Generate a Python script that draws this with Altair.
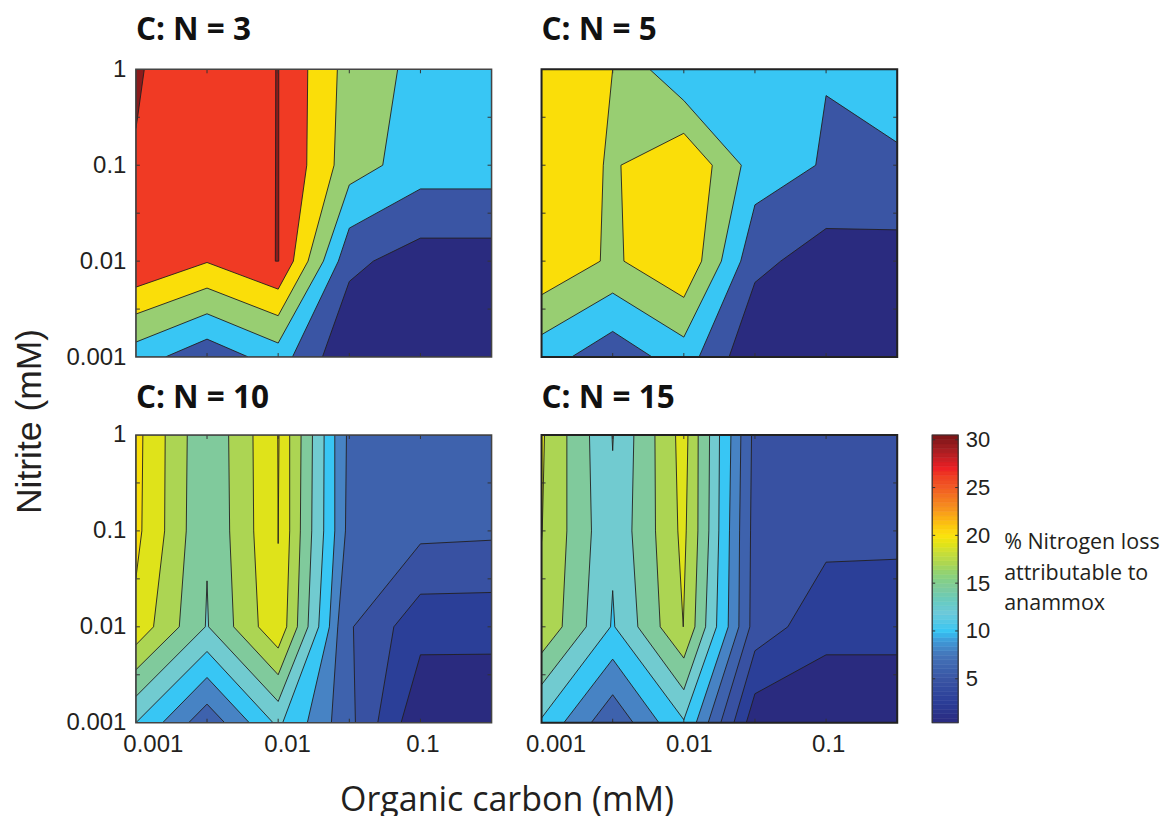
import altair as alt

# Contour regions, in log10(mM): (level, [(log10 carbon, log10 nitrite), ...])
# Each region covers everything at or above its level; higher levels are painted later.
FULL = [(-3, -3), (-0.5, -3), (-0.5, 0), (-3, 0)]

COLORS_A = ["#2a2b7f", "#3a55a4", "#38c6f4", "#98ce72", "#fade09", "#f03a24", "#8c1b1b"]
COLORS_B = ["#2a2b7f", "#2b3f98", "#3851a2", "#3e62ad", "#4783c4", "#38c6f4",
            "#71cbd0", "#80ca9c", "#acd553", "#dfe31a", "#fade09"]

PANEL_3 = [
    (0, FULL),
    (1, [(-1.689, -3), (-1.5, -2.212), (-1.331, -2), (-1, -1.76), (-0.5, -1.76), (-0.5, 0), (-3, 0), (-3, -3)]),
    (2, [(-1.9, -3), (-1.577, -2), (-1.5, -1.656), (-1, -1.247), (-0.5, -1.247), (-0.5, 0), (-3, 0), (-3, -3),
         (-2.794, -3), (-2.5, -2.813), (-2.209, -3)]),
    (3, [(-3, -2.844), (-2.5, -2.549), (-2, -2.854), (-1.682, -2), (-1.5, -1.205), (-1.265, -1), (-1.16, 0), (-3, 0)]),
    (4, [(-3, -2.552), (-2.5, -2.281), (-2, -2.569), (-1.79, -2), (-1.607, -1), (-1.584, 0), (-3, 0)]),
    (5, [(-3, -2.271), (-2.5, -2.014), (-2, -2.292), (-1.893, -2), (-1.799, -1), (-1.792, 0), (-3, 0)]),
    (6, [(-3, -0.615), (-2.988, -0.5), (-2.941, 0), (-3, 0)]),
    (6, [(-2.017, 0), (-2.02, -2), (-1.996, -2), (-1.996, 0)]),
]

PANEL_5 = [
    (0, FULL),
    (1, [(-1.682, -3), (-1.5, -2.222), (-1.319, -2), (-1, -1.66), (-0.5, -1.674), (-0.5, 0), (-3, 0), (-3, -3)]),
    (2, [(-1.893, -3), (-1.6, -2), (-1.5, -1.413), (-1.073, -1), (-1, -0.274), (-0.5, -0.764), (-0.5, 0), (-3, 0),
         (-3, -3), (-2.789, -3), (-2.5, -2.733), (-2.222, -3)]),
    (3, [(-3, -2.767), (-2.5, -2.333), (-2, -2.792), (-1.736, -2), (-1.596, -1), (-2, -0.326), (-2.24, 0), (-3, 0)]),
    (4, [(-3, -2.351), (-2.587, -2), (-2.566, -1), (-2.5, 0), (-3, 0)]),
    (4, [(-2.442, -1), (-2, -0.667), (-1.8, -1), (-1.875, -2), (-2, -2.378), (-2.421, -2)]),
]

PANEL_10 = [
    (0, FULL),
    (1, [(-1.136, -3), (-1, -2.292), (-0.5, -2.285), (-0.5, 0), (-3, 0), (-3, -3)]),
    (2, [(-1.3, -3), (-1.187, -2), (-1, -1.66), (-0.5, -1.642), (-0.5, 0), (-3, 0), (-3, -3)]),
    (3, [(-1.457, -3), (-1.471, -2), (-1, -1.135), (-0.5, -1.097), (-0.5, 0), (-3, 0), (-3, -3)]),
    (4, [(-3, -3), (-2.629, -3), (-2.5, -2.806), (-2.376, -3), (-1.626, -3), (-1.581, -2), (-1.527, -1), (-1.52, 0), (-3, 0)]),
    (5, [(-3, -3), (-2.812, -3), (-2.5, -2.528), (-2.203, -3), (-1.795, -3), (-1.64, -2), (-1.602, -1), (-1.602, 0), (-3, 0)]),
    (6, [(-3, -3), (-2.5, -2.257), (-2.036, -3), (-1.968, -3), (-1.715, -2), (-1.68, -1), (-1.677, 0), (-3, 0)]),
    (7, [(-3, -2.726), (-2.512, -2), (-2.5, -1.521), (-2.489, -2), (-2, -2.778), (-1.79, -2), (-1.764, -1), (-1.759, 0), (-3, 0)]),
    (8, [(-3, -2.448), (-2.695, -2), (-2.646, -1), (-2.639, 0), (-3, 0)]),
    (8, [(-2.348, 0), (-2.341, -1), (-2.313, -2), (-2, -2.5), (-1.865, -2), (-1.844, -1), (-1.839, 0)]),
    (9, [(-3, -2.188), (-2.876, -2), (-2.798, -1), (-2.794, 0), (-3, 0)]),
    (9, [(-2.177, 0), (-2.172, -1), (-2.139, -2), (-2, -2.222), (-1.94, -2), (-1.919, -1), (-1.919, 0)]),
    (10, [(-3, -1.493), (-2.958, -1), (-2.951, 0), (-3, 0)]),
    (10, [(-2.003, 0), (-2.0, -1.132), (-1.994, 0)]),
]

PANEL_15 = [
    (0, FULL),
    (1, [(-1.561, -3), (-1.5, -2.698), (-1, -2.292), (-0.5, -2.292), (-0.5, 0), (-3, 0), (-3, -3)]),
    (2, [(-1.648, -3), (-1.5, -2.25), (-1.269, -2), (-1, -1.326), (-0.5, -1.295), (-0.5, 0), (-3, 0), (-3, -3)]),
    (3, [(-1.74, -3), (-1.536, -2), (-1.531, -1), (-1.524, 0), (-3, 0), (-3, -3)]),
    (4, [(-3, -3), (-2.651, -3), (-2.5, -2.708), (-2.356, -3), (-1.829, -3), (-1.613, -2), (-1.608, -1), (-1.599, 0), (-3, 0)]),
    (5, [(-3, -3), (-2.843, -3), (-2.5, -2.337), (-2.175, -3), (-1.913, -3), (-1.688, -2), (-1.679, -1), (-1.669, 0), (-3, 0)]),
    (6, [(-3, -2.951), (-2.515, -2), (-2.5, -1.622), (-2.485, -2), (-2, -2.969), (-1.77, -2), (-1.754, -1), (-1.749, 0), (-3, 0)]),
    (7, [(-2.505, 0), (-2.5, -0.163), (-2.495, 0)]),
    (7, [(-3, -2.604), (-2.686, -2), (-2.649, -1), (-2.663, 0), (-3, 0)]),
    (7, [(-2.351, 0), (-2.365, -1), (-2.323, -2), (-2, -2.656), (-1.847, -2), (-1.824, -1), (-1.819, 0)]),
    (8, [(-3, -2.274), (-2.855, -2), (-2.822, -1), (-2.822, 0), (-3, 0)]),
    (8, [(-2.203, 0), (-2.199, -1), (-2.166, -2), (-2, -2.326), (-1.922, -2), (-1.901, -1), (-1.899, 0)]),
    (9, [(-3, -1.111), (-2.995, -1), (-2.979, 0), (-3, 0)]),
    (9, [(-2.058, 0), (-2.042, -1), (-2.004, -2), (-1.983, -1), (-1.971, 0)]),
]

X_TICKS = [-2.5, -2, -1.5, -1]
Y_TICKS = [-2.5, -2, -1.5, -1, -0.5]
# The printed x labels sit a little to the right of their ticks in the figure.
X_LABEL_POS_LEFT = [-2.881, -1.937, -0.986]
X_LABEL_POS_RIGHT = [-2.902, -1.965, -0.986]
Y_LABELS = [-3, -2, -1, 0]

BAR_VALUES = [0.4, 2.5, 5, 7.5, 9, 10, 12, 14.5, 17, 19, 20, 21, 23, 25, 27, 29, 30.5]
BAR_COLORS = ["#2a2a7f", "#2b3d97", "#3a55a4", "#4575b9", "#3f9bd8", "#38c6f4", "#6ec9d8", "#7fca9c",
              "#acd553", "#dfe31a", "#fbe30d", "#fbc712", "#f58d20", "#f15a24", "#ed2024", "#a41e22", "#7a1416"]
BAR_EDGES = [0.4 + i * 30.1 / 64 for i in range(65)]
BAR_TICKS = [5, 10, 15, 20, 25, 30]

W, H, CB_W = 356, 288, 26
NUM_FONT = "Liberation Sans"
TXT_FONT = "Open Sans"
INK = "#231f20"
X_EXPR = "datum.value < -2.5 ? '0.001' : datum.value < -1.5 ? '0.01' : '0.1'"
Y_EXPR = "datum.value == 0 ? '1' : format(pow(10, datum.value), '.' + (-datum.value) + 'f')"
XS = alt.Scale(domain=[-3, -0.5], nice=False, zero=False)
YS = alt.Scale(domain=[-3, 0], nice=False, zero=False)


def panel(regions, colors, title, title_y, x_labels, y_labels, x_title, y_title, frame, frame_w):
    rows = []
    for k, (level, pts) in enumerate(regions):
        for j, (x, y) in enumerate(pts):
            rows.append({"poly": k, "i": j, "x": x, "y": y, "color": colors[level]})
    x_axis = None
    if x_labels:
        x_axis = alt.Axis(values=x_labels, labelExpr=X_EXPR, domain=False, ticks=False, grid=False,
                          labelFont=NUM_FONT, labelFontSize=24, labelColor=INK, labelPadding=10,
                          labelFlush=False, labelOverlap=False,
                          title=x_title, titleX=371, titleY=78, titleFont=TXT_FONT, titleFontSize=34,
                          titleFontWeight="normal", titleColor=INK, titleAlign="center", titleBaseline="middle")
    y_axis = None
    if y_labels:
        y_axis = alt.Axis(values=y_labels, labelExpr=Y_EXPR, domain=False, ticks=False, grid=False,
                          labelFont=NUM_FONT, labelFontSize=24, labelColor=INK, labelPadding=10,
                          labelFlush=False, labelOverlap=False,
                          title=y_title, titleX=-106, titleY=352, titleAngle=270, titleFont=NUM_FONT, titleFontSize=35.5,
                          titleFontWeight="normal", titleColor=INK, titleAlign="center", titleBaseline="middle")
    base = alt.Chart(alt.Data(values=rows)).mark_line(
        interpolate="linear-closed", stroke=INK, strokeWidth=0.9, clip=True
    ).encode(
        x=alt.X("x:Q", scale=XS, axis=x_axis),
        y=alt.Y("y:Q", scale=YS, axis=y_axis),
        order="i:Q",
        detail="poly:N",
        fill=alt.Fill("color:N", scale=None),
    )
    xd = alt.Data(values=[{"v": v} for v in X_TICKS])
    yd = alt.Data(values=[{"v": v} for v in Y_TICKS])
    tick = dict(color="#333333", strokeWidth=1)
    ticks = [
        alt.Chart(xd).mark_rule(**tick).encode(x=alt.X("v:Q", scale=XS, axis=x_axis), y=alt.value(0), y2=alt.value(4)),
        alt.Chart(xd).mark_rule(**tick).encode(x=alt.X("v:Q", scale=XS, axis=x_axis), y=alt.value(H - 4), y2=alt.value(H)),
        alt.Chart(yd).mark_rule(**tick).encode(y=alt.Y("v:Q", scale=YS, axis=y_axis), x=alt.value(0), x2=alt.value(4)),
        alt.Chart(yd).mark_rule(**tick).encode(y=alt.Y("v:Q", scale=YS, axis=y_axis), x=alt.value(W - 4), x2=alt.value(W)),
    ]
    box = alt.Chart(alt.Data(values=[{"a": 0}])).mark_rect(
        fillOpacity=0, stroke=frame, strokeWidth=frame_w
    ).encode(x=alt.value(0), x2=alt.value(W), y=alt.value(0), y2=alt.value(H))
    head = alt.Chart(alt.Data(values=[{"t": title}])).mark_text(
        font=TXT_FONT, fontSize=31.5, fontWeight="bold", color="#111111", align="left", baseline="alphabetic"
    ).encode(text="t:N", x=alt.value(0), y=alt.value(title_y))
    return alt.layer(base, *ticks, box, head).properties(width=W, height=H)


def label(text, x, y, size):
    return alt.Chart(alt.Data(values=[{"t": text}])).mark_text(
        font=TXT_FONT, fontSize=size, color=INK, align="left", baseline="middle"
    ).encode(text="t:N", x=alt.value(x), y=alt.value(y))


p1 = panel(PANEL_3, COLORS_A, "C: N = 3", -29, None, Y_LABELS, None, "Nitrite (mM)", "#444444", 1.5)
p2 = panel(PANEL_5, COLORS_A, "C: N = 5", -29, None, None, None, None, "#222222", 2)
p3 = panel(PANEL_10, COLORS_B, "C: N = 10", -27, X_LABEL_POS_LEFT, Y_LABELS, "Organic carbon (mM)", None, "#444444", 1.5)
p4 = panel(PANEL_15, COLORS_B, "C: N = 15", -27, X_LABEL_POS_RIGHT, None, None, None, "#222222", 2)

blank = alt.Chart(alt.Data(values=[{"a": 0}])).mark_point(opacity=0).encode(
    x=alt.value(0), y=alt.value(0)).properties(width=CB_W, height=H)

bar_rows = [{"lo": a, "hi": b, "mid": (a + b) / 2} for a, b in zip(BAR_EDGES[:-1], BAR_EDGES[1:])]
CBS = alt.Scale(domain=[0.4, 30.5], nice=False, zero=False)
CB_AXIS = alt.Axis(orient="right", values=BAR_TICKS, title=None, domain=False, ticks=False, grid=False, offset=-15,
                   labelFont=NUM_FONT, labelFontSize=22, labelColor=INK, labelPadding=7, labelFlush=False,
                   labelOverlap=False)
CB_COLOR = alt.Scale(domain=BAR_VALUES, range=BAR_COLORS)
bar = alt.Chart(alt.Data(values=bar_rows)).mark_rect(strokeWidth=0.6).encode(
    x=alt.value(-15), x2=alt.value(11),
    y=alt.Y("lo:Q", scale=CBS, axis=CB_AXIS),
    y2="hi:Q",
    color=alt.Color("mid:Q", legend=None, scale=CB_COLOR),
    stroke=alt.Stroke("mid:Q", legend=None, scale=CB_COLOR),
)
tick_data = alt.Data(values=[{"v": v} for v in BAR_TICKS])
bar_ticks_l = alt.Chart(tick_data).mark_rule(color="#333333").encode(
    y=alt.Y("v:Q", scale=CBS, axis=CB_AXIS), x=alt.value(-15), x2=alt.value(-12))
bar_ticks_r = alt.Chart(tick_data).mark_rule(color="#333333").encode(
    y=alt.Y("v:Q", scale=CBS, axis=CB_AXIS), x=alt.value(8), x2=alt.value(11))
bar_box = alt.Chart(alt.Data(values=[{"a": 0}])).mark_rect(fillOpacity=0, stroke="#333333", strokeWidth=1.2).encode(
    x=alt.value(-15), x2=alt.value(11), y=alt.value(0), y2=alt.value(H))
cb = alt.layer(
    bar, bar_ticks_l, bar_ticks_r, bar_box,
    label("% Nitrogen loss", 57, 108, 21.5),
    label("attributable to", 57, 139, 21.5),
    label("anammox", 57, 169, 21.5),
).properties(width=CB_W, height=H)

chart = alt.concat(
    p1, p2, blank, p3, p4, cb, columns=3, spacing=alt.RowColnumber(row=78, column=50), bounds="flush"
).properties(padding={"left": 5, "top": 7, "right": 0, "bottom": 0}).configure_view(stroke=None)

chart.save("out.html", embed_options={"renderer": "svg", "actions": False})
